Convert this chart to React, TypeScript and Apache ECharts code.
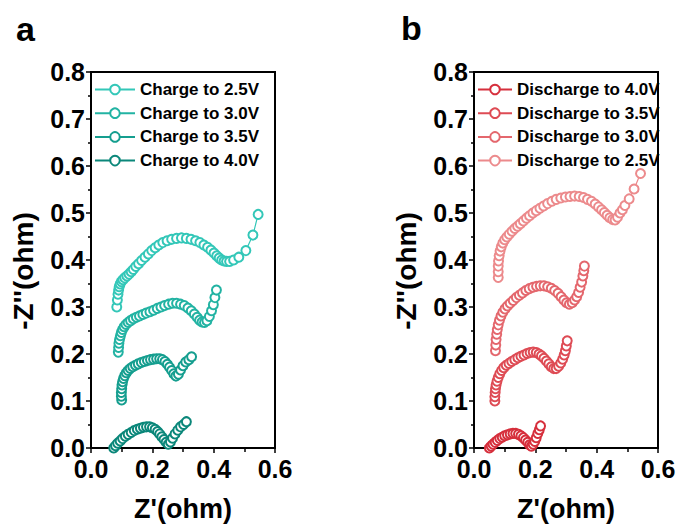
import React, { useEffect, useRef } from "react";
import * as echarts from "echarts";

const FONT = "'Liberation Sans', Arial, Helvetica, sans-serif";

// Axis ranges and tick steps (ohm)
const xRange = [0, 0.6];
const xStep = 0.2;
const yRange = [0, 0.8];
const yStep = 0.1;

// Panel a: charge curves (Z', -Z'')
const chargeNames = ["Charge to 2.5V", "Charge to 3.0V", "Charge to 3.5V", "Charge to 4.0V"];
const chargeColors = ["#33C7B8", "#22B3A3", "#159E8F", "#0B877A"];

const charge25: [number, number][] = [
  [0.084, 0.300], [0.086, 0.315], [0.088, 0.327], [0.090, 0.336], [0.092, 0.343], [0.095, 0.349],
  [0.099, 0.354], [0.104, 0.358], [0.110, 0.362], [0.117, 0.366], [0.124, 0.370], [0.131, 0.375],
  [0.138, 0.380], [0.146, 0.386], [0.155, 0.392], [0.165, 0.399], [0.176, 0.406], [0.187, 0.413],
  [0.198, 0.420], [0.209, 0.426], [0.221, 0.432], [0.234, 0.437], [0.248, 0.441], [0.263, 0.444],
  [0.279, 0.446], [0.295, 0.447], [0.311, 0.446], [0.326, 0.444], [0.341, 0.441], [0.355, 0.437],
  [0.368, 0.432], [0.380, 0.427], [0.391, 0.421], [0.401, 0.415], [0.410, 0.409], [0.418, 0.404],
  [0.426, 0.400], [0.434, 0.398], [0.442, 0.397], [0.452, 0.397], [0.465, 0.400], [0.482, 0.406],
  [0.505, 0.420], [0.528, 0.453], [0.545, 0.497],
];

const charge30: [number, number][] = [
  [0.089, 0.204], [0.090, 0.214], [0.091, 0.223], [0.093, 0.231], [0.096, 0.239], [0.099, 0.246],
  [0.103, 0.252], [0.108, 0.258], [0.114, 0.263], [0.121, 0.267], [0.129, 0.271], [0.138, 0.275],
  [0.148, 0.278], [0.158, 0.281], [0.169, 0.284], [0.180, 0.287], [0.192, 0.290], [0.204, 0.293],
  [0.216, 0.297], [0.228, 0.300], [0.240, 0.303], [0.253, 0.306], [0.266, 0.308], [0.279, 0.308],
  [0.292, 0.306], [0.304, 0.303], [0.316, 0.298], [0.327, 0.292], [0.337, 0.285], [0.346, 0.278],
  [0.354, 0.272], [0.362, 0.268], [0.370, 0.267], [0.378, 0.271], [0.386, 0.280], [0.393, 0.292],
  [0.399, 0.305], [0.404, 0.320], [0.409, 0.336],
];

const charge35: [number, number][] = [
  [0.100, 0.102], [0.099, 0.110], [0.099, 0.118], [0.100, 0.126], [0.101, 0.134], [0.103, 0.141],
  [0.106, 0.148], [0.110, 0.154], [0.115, 0.160], [0.121, 0.165], [0.128, 0.169], [0.136, 0.173],
  [0.145, 0.176], [0.154, 0.179], [0.164, 0.182], [0.174, 0.184], [0.184, 0.186], [0.194, 0.188],
  [0.204, 0.189], [0.214, 0.190], [0.224, 0.190], [0.233, 0.188], [0.241, 0.184], [0.249, 0.178],
  [0.256, 0.172], [0.263, 0.165], [0.270, 0.158], [0.277, 0.153], [0.285, 0.157], [0.292, 0.166],
  [0.300, 0.175], [0.309, 0.183], [0.319, 0.188], [0.328, 0.194],
];

const charge40: [number, number][] = [
  [0.074, 0.000], [0.080, 0.005], [0.087, 0.010], [0.095, 0.015], [0.103, 0.020], [0.112, 0.025],
  [0.121, 0.029], [0.131, 0.033], [0.141, 0.037], [0.151, 0.040], [0.161, 0.042], [0.171, 0.044],
  [0.181, 0.045], [0.191, 0.045], [0.200, 0.043], [0.209, 0.040], [0.217, 0.035], [0.224, 0.030],
  [0.231, 0.024], [0.238, 0.018], [0.245, 0.012], [0.252, 0.008], [0.259, 0.013], [0.266, 0.021],
  [0.274, 0.030], [0.283, 0.038], [0.292, 0.045], [0.302, 0.050], [0.311, 0.056],
];

// Panel b: discharge curves (Z', -Z'')
const dischargeNames = ["Discharge to 4.0V", "Discharge to 3.5V", "Discharge to 3.0V", "Discharge to 2.5V"];
const dischargeColors = ["#D62F3C", "#DE4B54", "#E4676D", "#EC8A8C"];

const discharge40: [number, number][] = [
  [0.050, 0.000], [0.056, 0.004], [0.062, 0.008], [0.069, 0.012], [0.076, 0.016], [0.084, 0.020],
  [0.092, 0.023], [0.100, 0.026], [0.109, 0.028], [0.118, 0.030], [0.127, 0.031], [0.136, 0.031],
  [0.145, 0.029], [0.153, 0.026], [0.161, 0.022], [0.168, 0.017], [0.175, 0.012], [0.181, 0.007],
  [0.187, 0.004], [0.193, 0.008], [0.198, 0.014], [0.203, 0.022], [0.208, 0.031], [0.213, 0.039],
  [0.217, 0.047],
];

const discharge35: [number, number][] = [
  [0.068, 0.100], [0.068, 0.109], [0.069, 0.118], [0.070, 0.126], [0.072, 0.134], [0.075, 0.142],
  [0.079, 0.150], [0.084, 0.158], [0.090, 0.165], [0.097, 0.171], [0.105, 0.176], [0.114, 0.180],
  [0.123, 0.184], [0.133, 0.188], [0.143, 0.192], [0.153, 0.195], [0.163, 0.198], [0.173, 0.201],
  [0.183, 0.203], [0.193, 0.204], [0.203, 0.203], [0.212, 0.200], [0.220, 0.196], [0.228, 0.191],
  [0.236, 0.185], [0.244, 0.179], [0.252, 0.173], [0.260, 0.169], [0.268, 0.169], [0.276, 0.174],
  [0.283, 0.181], [0.289, 0.189], [0.294, 0.198], [0.298, 0.207], [0.301, 0.217], [0.304, 0.228],
];

const discharge30: [number, number][] = [
  [0.070, 0.207], [0.071, 0.219], [0.072, 0.231], [0.074, 0.242], [0.076, 0.252], [0.079, 0.262],
  [0.083, 0.272], [0.088, 0.281], [0.094, 0.289], [0.101, 0.296], [0.109, 0.302], [0.118, 0.308],
  [0.128, 0.314], [0.138, 0.320], [0.148, 0.325], [0.158, 0.330], [0.169, 0.335], [0.180, 0.339],
  [0.192, 0.342], [0.204, 0.344], [0.216, 0.345], [0.228, 0.345], [0.240, 0.343], [0.252, 0.340],
  [0.263, 0.335], [0.274, 0.329], [0.284, 0.322], [0.293, 0.315], [0.302, 0.309], [0.311, 0.306],
  [0.320, 0.309], [0.328, 0.315], [0.335, 0.322], [0.341, 0.331], [0.346, 0.342], [0.351, 0.353],
  [0.355, 0.366], [0.358, 0.377], [0.360, 0.387],
];

const discharge25: [number, number][] = [
  [0.079, 0.363], [0.079, 0.375], [0.079, 0.387], [0.080, 0.398], [0.082, 0.409], [0.085, 0.419],
  [0.089, 0.428], [0.094, 0.436], [0.100, 0.443], [0.107, 0.449], [0.115, 0.455], [0.124, 0.461],
  [0.133, 0.467], [0.142, 0.472], [0.151, 0.477], [0.161, 0.483], [0.171, 0.489], [0.181, 0.494],
  [0.192, 0.500], [0.203, 0.505], [0.215, 0.510], [0.227, 0.515], [0.240, 0.520], [0.254, 0.525],
  [0.268, 0.529], [0.283, 0.532], [0.298, 0.534], [0.313, 0.535], [0.328, 0.536], [0.343, 0.535],
  [0.357, 0.533], [0.370, 0.529], [0.383, 0.525], [0.395, 0.519], [0.406, 0.513], [0.416, 0.507],
  [0.425, 0.501], [0.434, 0.495], [0.443, 0.490], [0.452, 0.486], [0.460, 0.485], [0.468, 0.491],
  [0.476, 0.500], [0.484, 0.507], [0.492, 0.516], [0.506, 0.530], [0.522, 0.551], [0.543, 0.584],
];

const chargeData = [charge25, charge30, charge35, charge40];
const dischargeData = [discharge40, discharge35, discharge30, discharge25];

const xTitle = "Z'(ohm)";
const yTitle = "-Z''(ohm)";

const textBase = { color: "#000", fontFamily: FONT, fontWeight: "bold" as const };

function makeSeries(name: string, data: [number, number][], color: string, axis: number) {
  return {
    type: "line",
    name,
    data,
    xAxisIndex: axis,
    yAxisIndex: axis,
    symbol: "emptyCircle",
    symbolSize: 9,
    lineStyle: { color, width: 1.2 },
    itemStyle: { color, borderColor: color, borderWidth: 1.6 },
    emphasis: { disabled: true },
    silent: true,
  };
}

function makeXAxis(gridIndex: number) {
  return {
    type: "value",
    gridIndex,
    min: xRange[0],
    max: xRange[1],
    interval: xStep,
    axisLine: { show: true, onZero: false, lineStyle: { color: "#000", width: 2 } },
    axisTick: { show: true, inside: false, length: 5, lineStyle: { color: "#000", width: 1.5 } },
    minorTick: { show: true, splitNumber: 2, length: 4, lineStyle: { color: "#000", width: 1.5 } },
    splitLine: { show: false },
    axisLabel: {
      ...textBase,
      fontSize: 25,
      lineHeight: 18,
      margin: 12,
      formatter: (v: number) => v.toFixed(1),
    },
    name: xTitle,
    nameLocation: "middle",
    nameGap: 47,
    nameTextStyle: { ...textBase, fontSize: 27 },
  };
}

function makeYAxis(gridIndex: number) {
  return {
    type: "value",
    gridIndex,
    min: yRange[0],
    max: yRange[1],
    interval: yStep,
    axisLine: { show: true, onZero: false, lineStyle: { color: "#000", width: 2 } },
    axisTick: { show: true, inside: false, length: 5, lineStyle: { color: "#000", width: 1.5 } },
    minorTick: { show: true, splitNumber: 2, length: 3, lineStyle: { color: "#000", width: 1.5 } },
    splitLine: { show: false },
    axisLabel: {
      ...textBase,
      fontSize: 25,
      lineHeight: 18,
      margin: 6,
      formatter: (v: number) => v.toFixed(1),
    },
    name: yTitle,
    nameLocation: "middle",
    nameRotate: 90,
    nameGap: 54,
    nameTextStyle: { ...textBase, fontSize: 28, padding: [0, 22, 0, 0] },
  };
}

function makeLegend(names: string[], left: number, itemWidth: number) {
  return {
    data: names,
    orient: "vertical",
    left,
    top: 81,
    padding: 0,
    itemWidth,
    itemHeight: 12,
    itemGap: 6.7,
    selectedMode: false,
    textStyle: { ...textBase, fontSize: 17, lineHeight: 17 },
  };
}

const gridBase = {
  top: 72,
  width: 184,
  height: 376,
  show: true,
  borderColor: "#000",
  borderWidth: 2,
  backgroundColor: "transparent",
  outerBoundsMode: "none",
};

export default function App() {
  const ref = useRef<HTMLDivElement>(null);

  useEffect(() => {
    if (!ref.current) return;
    const chart = echarts.init(ref.current, undefined, { renderer: "svg" });
    chart.setOption({
      animation: false,
      backgroundColor: "#fff",
      grid: [
        { ...gridBase, left: 91 },
        { ...gridBase, left: 474 },
      ],
      xAxis: [makeXAxis(0), makeXAxis(1)],
      yAxis: [makeYAxis(0), makeYAxis(1)],
      legend: [makeLegend(chargeNames, 94, 40), makeLegend(dischargeNames, 477, 34)],
      series: [
        ...chargeNames.map((n, i) => makeSeries(n, chargeData[i], chargeColors[i], 0)),
        ...dischargeNames.map((n, i) => makeSeries(n, dischargeData[i], dischargeColors[i], 1)),
      ],
      graphic: [
        { type: "text", left: 16, top: 12, style: { text: "a", fill: "#000", font: `bold 34px ${FONT}` } },
        { type: "text", left: 401, top: 11, style: { text: "b", fill: "#000", font: `bold 34px ${FONT}` } },
      ],
    });
    return () => chart.dispose();
  }, []);

  return (
    <div
      ref={ref}
      style={{ position: "fixed", left: 0, top: 0, width: 681, height: 524, background: "#fff" }}
    />
  );
}
